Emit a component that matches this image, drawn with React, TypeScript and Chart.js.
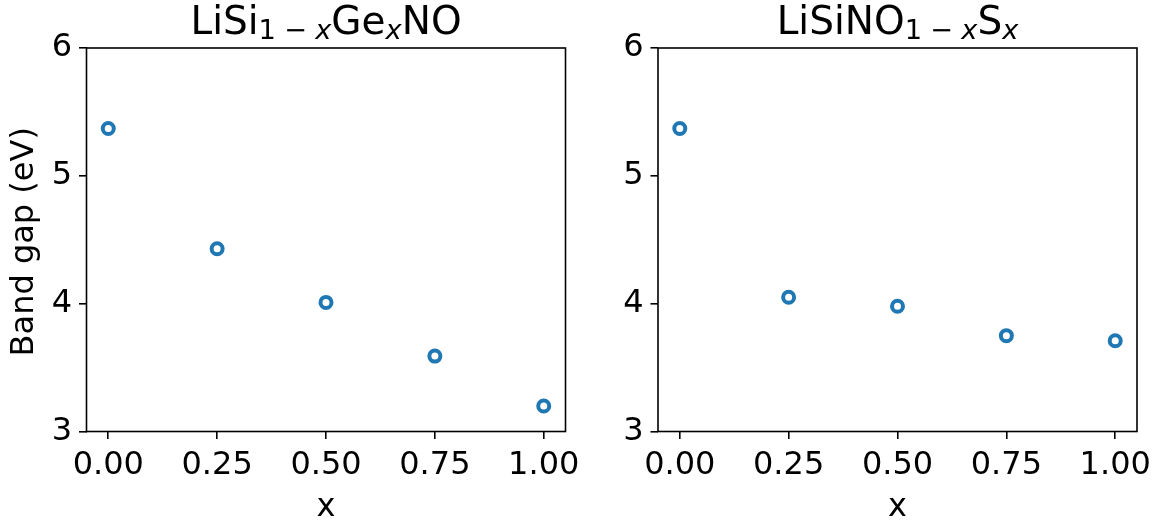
import React, { useEffect, useRef } from "react";
import { Chart, registerables } from "chart.js";

Chart.register(...registerables);

// Composition x and computed band gaps (eV)
const xValues = [0, 0.25, 0.5, 0.75, 1.0];
const geBandGap = [5.37, 4.43, 4.01, 3.59, 3.2];
const sBandGap = [5.37, 4.05, 3.98, 3.75, 3.71];

const xTickValues = [0, 0.25, 0.5, 0.75, 1.0];
const xTickLabels = ["0.00", "0.25", "0.50", "0.75", "1.00"];
const yTickValues = [3, 4, 5, 6];
const yTickLabels = ["3", "4", "5", "6"];

const xAxisLabel = "x";
const yAxisLabel = "Band gap (eV)";

type Seg = { t: string; sub?: boolean; italic?: boolean; gap?: number };

const titleGe: Seg[] = [
  { t: "LiSi" },
  { t: "1", sub: true },
  { t: "\u2212", sub: true, gap: 0.3 },
  { t: "x", sub: true, italic: true },
  { t: "Ge" },
  { t: "x", sub: true, italic: true },
  { t: "NO" },
];

const titleS: Seg[] = [
  { t: "LiSiNO" },
  { t: "1", sub: true },
  { t: "\u2212", sub: true, gap: 0.3 },
  { t: "x", sub: true, italic: true },
  { t: "S" },
  { t: "x", sub: true, italic: true },
];

const FONT = '"DejaVu Sans", sans-serif';
const BASE = 32;
const TITLE = 39;
const BLUE = "#1f77b4";

function segFont(s: Seg, size: number) {
  const sz = s.sub ? size * 0.7 : size;
  return `${s.italic ? "italic " : ""}${sz}px ${FONT}`;
}

function drawRich(ctx: CanvasRenderingContext2D, segs: Seg[], cx: number, baseline: number, size: number) {
  let total = 0;
  const widths = segs.map((s) => {
    ctx.font = segFont(s, size);
    const sz = s.sub ? size * 0.7 : size;
    const g = (s.gap || 0) * sz;
    const w = ctx.measureText(s.t).width + 2 * g;
    total += w;
    return w;
  });
  let x = cx - total / 2;
  ctx.textAlign = "left";
  ctx.textBaseline = "alphabetic";
  segs.forEach((s, i) => {
    ctx.font = segFont(s, size);
    const sz = s.sub ? size * 0.7 : size;
    const g = (s.gap || 0) * sz;
    const y = s.sub ? baseline + size * 0.13 : baseline;
    ctx.fillText(s.t, x + g, y);
    x += widths[i];
  });
}

type PanelProps = {
  left: number;
  width: number;
  yAxisWidth: number;
  padRight: number;
  values: number[];
  title: Seg[];
  showYLabel: boolean;
};

const HEIGHT = 524;
const TOP = 48;
const XAXIS_H = 92.5;

function Panel({ left, width, yAxisWidth, padRight, values, title, showYLabel }: PanelProps) {
  const ref = useRef<HTMLCanvasElement | null>(null);

  useEffect(() => {
    const canvas = ref.current;
    if (!canvas) return;

    const frame = {
      id: "frame",
      afterDraw(chart: any) {
        const { ctx, chartArea: a } = chart;
        ctx.save();
        ctx.strokeStyle = "#000";
        ctx.lineWidth = 1.6;
        ctx.strokeRect(a.left, a.top, a.right - a.left, a.bottom - a.top);
        ctx.fillStyle = "#000";
        const cx = (a.left + a.right) / 2;
        drawRich(ctx, title, cx, 34, TITLE);
        ctx.font = `${BASE}px ${FONT}`;
        ctx.textAlign = "center";
        ctx.textBaseline = "alphabetic";
        ctx.fillText(xAxisLabel, cx, 516);
        if (showYLabel) {
          ctx.translate(33, (a.top + a.bottom) / 2 + 2);
          ctx.rotate(-Math.PI / 2);
          ctx.fillText(yAxisLabel, 0, 0);
        }
        ctx.restore();
      },
    };

    const chart = new Chart(canvas, {
      type: "scatter",
      data: {
        datasets: [
          {
            data: xValues.map((x, i) => ({ x, y: values[i] })),
            borderColor: BLUE,
            backgroundColor: "rgba(0,0,0,0)",
            pointRadius: 5.5,
            pointHoverRadius: 5.5,
            borderWidth: 4,
            pointStyle: "circle",
          },
        ],
      },
      options: {
        responsive: false,
        devicePixelRatio: 1,
        animation: false,
        layout: { padding: { top: TOP, right: padRight, left: 0, bottom: 0 } },
        plugins: { legend: { display: false }, tooltip: { enabled: false }, title: { display: false } },
        scales: {
          x: {
            type: "linear",
            min: -0.05,
            max: 1.05,
            afterBuildTicks: (s: any) => {
              s.ticks = xTickValues.map((v) => ({ value: v }));
            },
            afterFit: (s: any) => {
              s.height = XAXIS_H;
            },
            ticks: {
              autoSkip: false,
              maxRotation: 0,
              padding: 7,
              color: "#000",
              font: { family: FONT, size: BASE },
              callback: (_v: any, i: number) => xTickLabels[i],
            },
            grid: { drawOnChartArea: false, drawTicks: true, tickLength: 7.5, color: "#000", lineWidth: 1.6 },
            border: { display: false },
          },
          y: {
            type: "linear",
            min: 3,
            max: 6,
            afterBuildTicks: (s: any) => {
              s.ticks = yTickValues.map((v) => ({ value: v }));
            },
            afterFit: (s: any) => {
              s.width = yAxisWidth;
            },
            ticks: {
              autoSkip: false,
              padding: 7,
              color: "#000",
              font: { family: FONT, size: BASE },
              callback: (_v: any, i: number) => yTickLabels[i],
            },
            grid: { drawOnChartArea: false, drawTicks: true, tickLength: 7.5, color: "#000", lineWidth: 1.6 },
            border: { display: false },
          },
        },
      },
      plugins: [frame],
    });

    return () => chart.destroy();
  }, []);

  return (
    <canvas
      ref={ref}
      width={width}
      height={HEIGHT}
      style={{ position: "absolute", left, top: 0, width, height: HEIGHT }}
    />
  );
}

export default function App() {
  return (
    <div style={{ position: "fixed", left: 0, top: 0, width: 1170, height: HEIGHT, background: "#fff" }}>
      <Panel left={0} width={600} yAxisWidth={86.5} padRight={34.5} values={geBandGap} title={titleGe} showYLabel={true} />
      <Panel left={585} width={585} yAxisWidth={73} padRight={33} values={sBandGap} title={titleS} showYLabel={false} />
    </div>
  );
}
